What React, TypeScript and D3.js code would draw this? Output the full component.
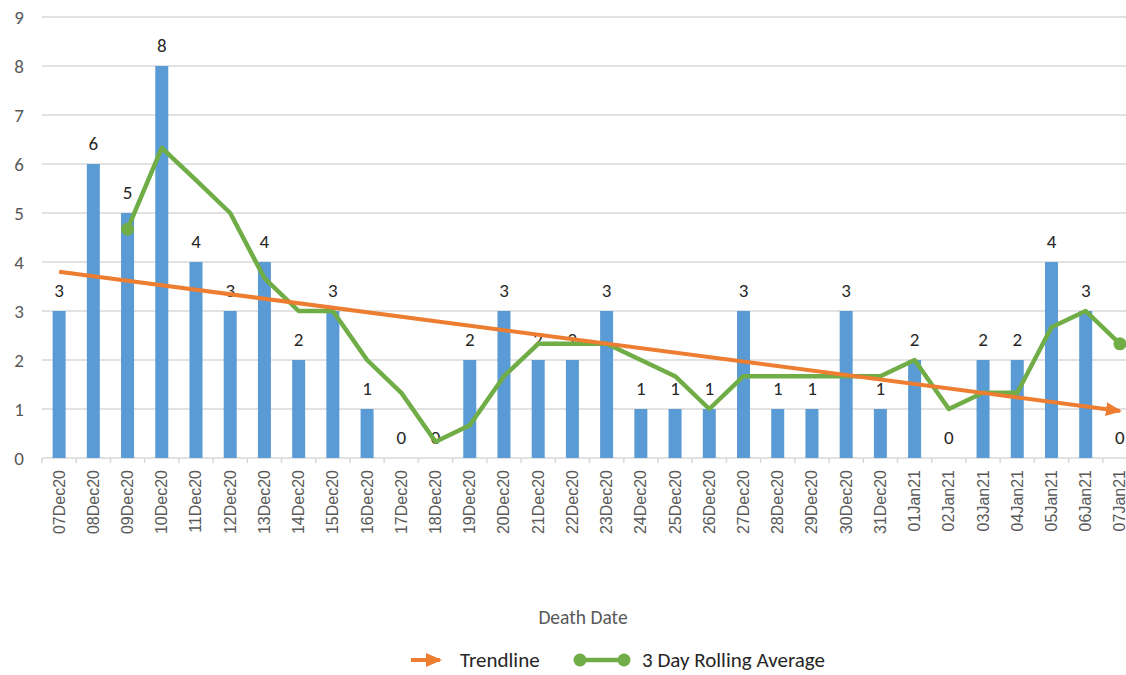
import React from "react";
import * as d3 from "d3";

// categories and values
const dates = [
  "07Dec20", "08Dec20", "09Dec20", "10Dec20", "11Dec20", "12Dec20", "13Dec20", "14Dec20",
  "15Dec20", "16Dec20", "17Dec20", "18Dec20", "19Dec20", "20Dec20", "21Dec20", "22Dec20",
  "23Dec20", "24Dec20", "25Dec20", "26Dec20", "27Dec20", "28Dec20", "29Dec20", "30Dec20",
  "31Dec20", "01Jan21", "02Jan21", "03Jan21", "04Jan21", "05Jan21", "06Jan21", "07Jan21",
];
const deaths = [3, 6, 5, 8, 4, 3, 4, 2, 3, 1, 0, 0, 2, 3, 2, 2, 3, 1, 1, 1, 3, 1, 1, 3, 1, 2, 0, 2, 2, 4, 3, 0];
// 3 day rolling average, starts at 09Dec20
const rollingDates = dates.slice(2);
const rolling = [
  4.67, 6.33, 5.67, 5, 3.67, 3, 3, 2, 1.33, 0.33, 0.67, 1.67, 2.33, 2.33, 2.33,
  2, 1.67, 1, 1.67, 1.67, 1.67, 1.67, 1.67, 2, 1, 1.33, 1.33, 2.67, 3, 2.33,
];
const trendDates = ["07Dec20", "07Jan21"];
const trendValues = [3.8, 0.96];
const yTicks = [0, 1, 2, 3, 4, 5, 6, 7, 8, 9];

const W = 1126;
const H = 675;
const left = 42;
const top = 17;
const bottom = 458;

const calibri = "Calibri, Carlito, Lato, 'Open Sans', sans-serif";
const arial = "Arial, 'Liberation Sans', sans-serif";
const blue = "#5B9BD5";
const orange = "#ED7D31";
const green = "#70AD47";

export default function App() {
  const x = d3.scaleBand().domain(dates).range([left, left + 34.22 * dates.length]).padding(0);
  const y = d3.scaleLinear().domain([0, 9]).range([bottom, top]);
  const cx = (d: string) => (x(d) ?? 0) + x.bandwidth() / 2;
  const barW = 13;

  const greenLine = d3
    .line<number>()
    .x((_, i) => cx(rollingDates[i]))
    .y((v) => y(v))(rolling);
  const trendLine = d3
    .line<number>()
    .x((_, i) => cx(trendDates[i]))
    .y((v) => y(v))(trendValues);

  return (
    <div style={{ position: "absolute", left: 0, top: 0 }}>
      <svg width={W} height={H} style={{ display: "block", background: "#fff" }}>
        <defs>
          <marker id="arrow" markerUnits="userSpaceOnUse" viewBox="0 0 16 14" refX="14" refY="7" markerWidth="16" markerHeight="14" orient="auto">
            <path d="M0,0 L16,7 L0,14 Z" fill={orange} />
          </marker>
        </defs>

        {/* gridlines */}
        {yTicks.map((t) => (
          <line key={"g" + t} x1={left} x2={W} y1={y(t)} y2={y(t)} stroke="#d9d9d9" strokeWidth={1.5} />
        ))}
        {/* y tick labels */}
        {yTicks.map((t) => (
          <text key={"yl" + t} x={24} y={y(t)} textAnchor="end" dominantBaseline="central" fontFamily={calibri} fontSize={19} fill="#595959">
            {t}
          </text>
        ))}

        {/* bars */}
        {dates.map((d, i) => (
          <rect key={"b" + d} x={cx(d) - barW / 2} y={y(deaths[i])} width={barW} height={bottom - y(deaths[i])} fill={blue} />
        ))}

        {/* x axis ticks */}
        {dates.map((d) => (
          <line key={"t" + d} x1={x(d)} x2={x(d)} y1={bottom} y2={bottom + 5} stroke="#d9d9d9" strokeWidth={1.5} />
        ))}
        {dates.map((d) => (
          <text key={"xl" + d} transform={`translate(${cx(d)},470) rotate(-90)`} textAnchor="end" dominantBaseline="central" fontFamily={arial} fontSize={16} fill="#595959">
            {d}
          </text>
        ))}

        {/* data labels */}
        {dates.map((d, i) => (
          <text key={"dl" + d} x={cx(d)} y={y(deaths[i]) - 21} textAnchor="middle" dominantBaseline="central" fontFamily={calibri} fontSize={19} fill="#262626">
            {deaths[i]}
          </text>
        ))}

        {/* rolling average */}
        <path d={greenLine ?? ""} fill="none" stroke={green} strokeWidth={4.5} strokeLinejoin="round" />
        <circle cx={cx(rollingDates[0])} cy={y(rolling[0])} r={6.5} fill={green} />
        <circle cx={cx(rollingDates[rollingDates.length - 1])} cy={y(rolling[rolling.length - 1])} r={6.5} fill={green} />

        {/* trendline */}
        <path d={trendLine ?? ""} fill="none" stroke={orange} strokeWidth={4} markerEnd="url(#arrow)" />

        {/* axis title */}
        <text x={583} y={617} textAnchor="middle" dominantBaseline="central" fontFamily={calibri} fontSize={19.5} fill="#595959">
          Death Date
        </text>

        {/* legend */}
        <line x1={411} x2={440} y1={660} y2={660} stroke={orange} strokeWidth={4} markerEnd="url(#arrow)" />
        <text x={460} y={660} dominantBaseline="central" fontFamily={calibri} fontSize={21} fill="#262626">
          Trendline
        </text>
        <line x1={580} x2={624} y1={660} y2={660} stroke={green} strokeWidth={4.5} />
        <circle cx={580} cy={660} r={6.5} fill={green} />
        <circle cx={624} cy={660} r={6.5} fill={green} />
        <text x={642} y={660} dominantBaseline="central" fontFamily={calibri} fontSize={21} fill="#262626">
          3 Day Rolling Average
        </text>
      </svg>
    </div>
  );
}
